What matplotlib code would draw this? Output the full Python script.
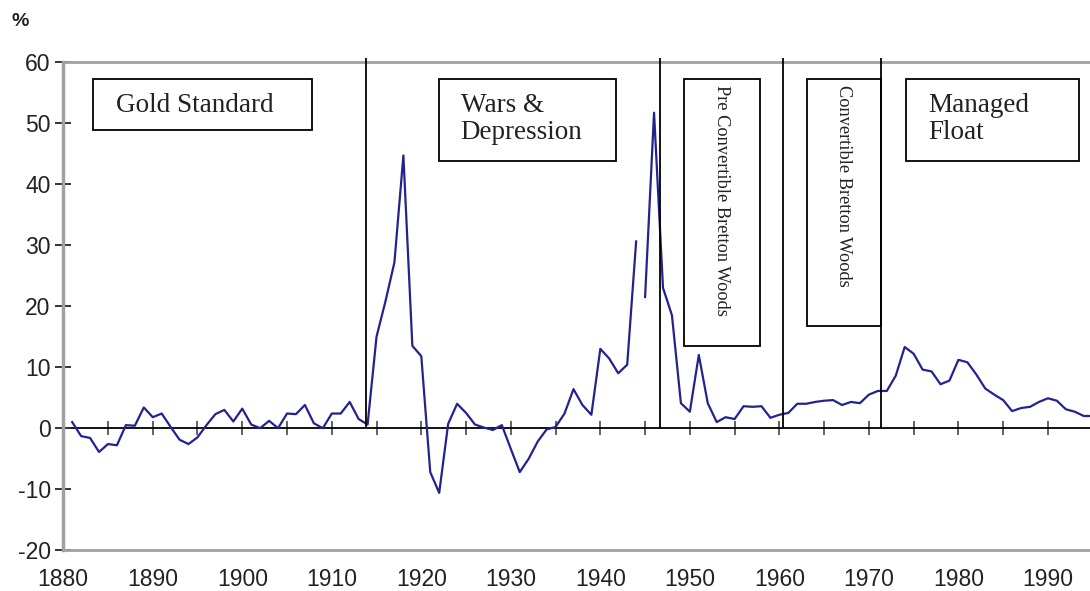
import matplotlib.pyplot as plt
from matplotlib.patches import Rectangle

plt.rcParams["axes.unicode_minus"] = False

years = list(range(1881, 1996))
inflation = [
    1.0, -1.3, -1.6, -3.9, -2.6, -2.8, 0.5, 0.4, 3.4, 1.8,
    2.4, 0.2, -1.9, -2.6, -1.5, 0.5, 2.3, 3.0, 1.1, 3.2,
    0.6, 0.0, 1.2, 0.0, 2.4, 2.3, 3.8, 0.8, 0.0, 2.4,
    2.4, 4.3, 1.5, 0.6, 15.0, 20.8, 27.2, 44.7, 13.5, 11.8,
    -7.2, -10.6, 0.7, 4.0, 2.5, 0.6, 0.1, -0.3, 0.5, -3.4,
    -7.2, -5.0, -2.2, -0.2, 0.2, 2.4, 6.4, 3.8, 2.2, 13.0,
    11.4, 9.0, 10.4, 30.6, 21.5, 51.7, 23.0, 18.5, 4.1, 2.7,
    12.0, 4.1, 1.0, 1.8, 1.5, 3.6, 3.5, 3.6, 1.7, 2.2,
    2.5, 4.0, 4.0, 4.3, 4.5, 4.6, 3.8, 4.3, 4.1, 5.5,
    6.1, 6.1, 8.6, 13.3, 12.2, 9.6, 9.3, 7.2, 7.8, 11.2,
    10.8, 8.8, 6.5, 5.5, 4.6, 2.8, 3.3, 3.5, 4.3, 4.9,
    4.5, 3.1, 2.7, 2.0, 2.0,
]
break_year = 1945  # the series has a gap between 1944 and 1945

regime_breaks = [1913.8, 1946.7, 1960.4, 1971.3]
regime_labels = ["Gold Standard", "Wars &\nDepression", "Pre Convertible Bretton Woods",
                 "Convertible Bretton Woods", "Managed\nFloat"]

x_ticks = list(range(1880, 1991, 10))
y_ticks = list(range(-20, 61, 10))

fig = plt.figure(figsize=(10.9, 5.91), dpi=100)
ax = fig.add_axes([0.058, 0.069, 0.942, 0.826])

i = years.index(break_year)
ax.plot(years[:i], inflation[:i], color="#23238f", lw=1.6)
ax.plot(years[i:], inflation[i:], color="#23238f", lw=1.6)

ax.set_xlim(1880, 1994.7)
ax.set_ylim(-20, 60)

ax.spines["right"].set_visible(False)
ax.spines["left"].set_color("#a0a0a0")
ax.spines["left"].set_linewidth(2.5)
ax.spines["bottom"].set_color("#a0a0a0")
ax.spines["bottom"].set_linewidth(2)
ax.spines["top"].set_color("#a0a0a0")
ax.spines["top"].set_linewidth(2)

ax.set_yticks(y_ticks)
ax.set_xticks(x_ticks)
ax.tick_params(axis="y", direction="inout", length=12, width=1.4, color="#333333",
               labelsize=16.5, pad=3, labelcolor="#222222")
ax.tick_params(axis="x", length=0, labelsize=16.5, pad=13, labelcolor="#222222")
for lab in ax.get_xticklabels() + ax.get_yticklabels():
    lab.set_family("Liberation Sans")

# zero line with the year ticks on it
zero_ax = ax.secondary_xaxis(0, transform=ax.transData)
zero_ax.set_xticks(list(range(1885, 1991, 5)))
zero_ax.tick_params(direction="inout", length=10, width=1.3, color="#555555", labelbottom=False)
zero_ax.spines["bottom"].set_color("black")
zero_ax.spines["bottom"].set_linewidth(1.3)

ax.vlines(regime_breaks, 0, 60.7, color="black", lw=1.3, clip_on=False, zorder=3)

boxes = [
    (1883.35, 48.9, 24.45, 8.3),
    (1921.96, 43.8, 19.74, 13.4),
    (1949.3, 13.5, 8.5, 43.7),
    (1963.1, 16.7, 8.2, 40.5),
    (1974.1, 43.8, 19.4, 13.4),
]
text_left = [1885.9, 1924.4, None, None, 1976.65]
for k, (bx, by, bw, bh) in enumerate(boxes):
    ax.add_patch(Rectangle((bx, by), bw, bh, fill=False, ec="black", lw=1.3, zorder=4))
    if k in (2, 3):
        ax.text(bx + bw / 2, by + bh - 0.9, regime_labels[k], rotation=270, ha="center",
                va="top", fontsize=13.2, family="Liberation Serif", color="#222222", zorder=5)
    else:
        ax.text(text_left[k], 54.9, regime_labels[k], ha="left", va="top",
                fontsize=19.5, family="Liberation Serif", color="#222222",
                linespacing=1.1, zorder=5)

fig.text(0.011, 0.963, "%", fontsize=14, family="Liberation Sans", weight="bold",
         color="#222222", va="center")

fig.savefig("out.png", dpi=100)
